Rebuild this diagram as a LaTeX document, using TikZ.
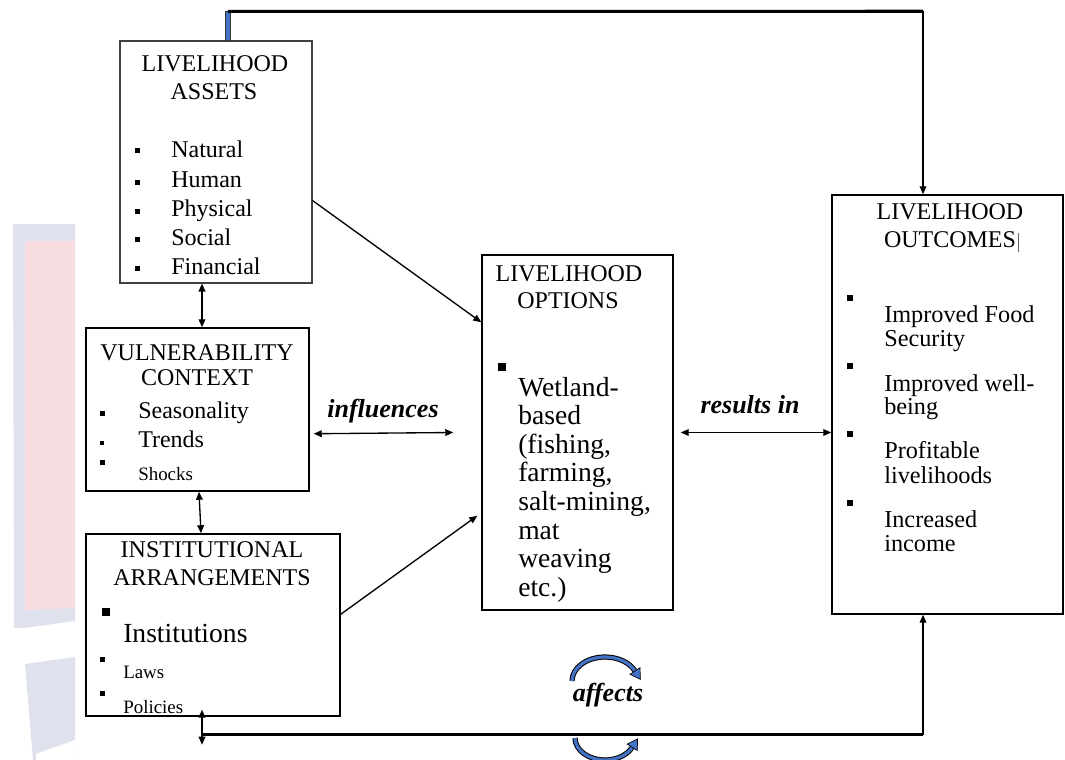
\documentclass[tikz,border=0pt]{standalone}
\usepackage{fontspec}
\setmainfont{Liberation Serif}
\usetikzlibrary{arrows.meta,calc,fit}
\definecolor{wordblue}{RGB}{68,114,196}
\definecolor{wmblue}{RGB}{223,226,237}
\definecolor{wmpink}{RGB}{249,222,225}
\tikzset{
  box/.style={draw=black, line width=1.1pt, inner sep=0pt},
  hd/.style={anchor=base, inner sep=0pt, font=\fontsize{18}{18}\selectfont},
  itm/.style={anchor=base west, inner sep=0pt, font=\fontsize{18}{18}\selectfont},
  itmsmall/.style={anchor=base west, inner sep=0pt, font=\fontsize{14.2}{14}\selectfont},
  itmbig/.style={anchor=base west, inner sep=0pt, font=\fontsize{20.7}{20}\selectfont},
  itmout/.style={anchor=base west, inner sep=0pt, font=\fontsize{18.2}{18}\selectfont},
  lab/.style={anchor=base, inner sep=0pt, font=\fontsize{19.5}{20}\selectfont\bfseries\itshape},
  bul/.style={fill=black, inner sep=0pt, minimum size=#1, rectangle},
  conn/.style={line width=1pt, {Triangle[length=6pt,width=5pt]}-{Triangle[length=6pt,width=5pt]}},
  conn1/.style={line width=1pt, -{Triangle[length=6pt,width=5pt]}},
  thickln/.style={line width=2.3pt, black},
}
\begin{document}
\begin{tikzpicture}[x=0.75pt,y=-0.75pt]
\useasboundingbox (0,0) rectangle (1065,760);
\fill[white] (0,0) rectangle (1065,760);
% faint watermark
\fill[wmblue] (13,224) -- (75,224) -- (75,621) -- (24,628) -- (14,628) -- cycle;
\fill[wmpink] (25,241) -- (75,241) -- (75,608) -- (25,610) -- cycle;
\fill[wmblue] (25,664) -- (75,657) -- (75,760) -- (33,760) -- cycle;
\fill[white] (36,754) -- (75,740) -- (75,760) -- (36,760) -- cycle;

% boxes
\node[box, draw=black!75, line width=0.8pt, fit={(120,41) (312,283)}] (assets) {};
\node[box, fit={(86,328) (309,491)}] (vc) {};
\node[box, fit={(86,534) (340,716)}] (ia) {};
\node[box, fit={(482,255) (673,610)}] (opt) {};
\node[box, fit={(832,195) (1063,614)}] (out) {};

% assets text
\node[hd] (a-h1) at (215,71) {LIVELIHOOD};
\node[hd] (a-h2) at (214,99) {ASSETS};
\node[bul=3.75pt] (a-b1) at (137,150) {};
\node[bul=3.75pt] (a-b2) at (137,182) {};
\node[bul=3.75pt] (a-b3) at (137,211) {};
\node[bul=3.75pt] (a-b4) at (137,239) {};
\node[bul=3.75pt] (a-b5) at (137,268) {};
\node[itm] (a-t1) at (171,157) {Natural};
\node[itm] (a-t2) at (171,187) {Human};
\node[itm] (a-t3) at (171,216) {Physical};
\node[itm] (a-t4) at (171,245) {Social};
\node[itm] (a-t5) at (171,274) {Financial};

% vulnerability text
\node[hd] (v-h1) at (197,360) {VULNERABILITY};
\node[hd] (v-h2) at (197,385) {CONTEXT};
\node[bul=3.75pt] (v-b1) at (102,413) {};
\node[bul=3pt] (v-b2) at (102,443) {};
\node[bul=3.75pt] (v-b3) at (102,462) {};
\node[itm] (v-t1) at (138,418) {Seasonality};
\node[itm] (v-t2) at (138,447) {Trends};
\node[itmsmall] (v-t3) at (138,480) {Shocks};

% institutional text
\node[hd] (i-h1) at (212,557) {INSTITUTIONAL};
\node[hd] (i-h2) at (212,585) {ARRANGEMENTS};
\node[bul=6pt] (i-b1) at (105.5,611.5) {};
\node[itmbig] (i-t1) at (123,642) {Institutions};
\node[bul=3.75pt] (i-b2) at (102.5,659) {};
\node[itmsmall] (i-t2) at (123,678) {Laws};
\node[bul=3.75pt] (i-b3) at (102.5,693) {};
\node[itmsmall] (i-t3) at (123,713) {Policies};

% options text
\node[hd] (o-h1) at (569,281) {LIVELIHOOD};
\node[hd] (o-h2) at (568,308) {OPTIONS};
\node[bul=6pt] (o-b1) at (502,367) {};
\node[itmbig] (o-t1) at (518,396) {Wetland-};
\node[itmbig] (o-t2) at (518,424.6) {based};
\node[itmbig] (o-t3) at (518,453.2) {(fishing,};
\node[itmbig] (o-t4) at (518,481.8) {farming,};
\node[itmbig] (o-t5) at (518,510.4) {salt-mining,};
\node[itmbig] (o-t6) at (518,539) {mat};
\node[itmbig] (o-t7) at (518,567.6) {weaving};
\node[itmbig] (o-t8) at (518,596.2) {etc.)};

% outcomes text
\node[hd] (u-h1) at (950,219) {LIVELIHOOD};
\node[hd] (u-h2) at (950,247) {OUTCOMES};
\draw[black!60, line width=0.5pt] ($(u-h2.base east)+(2,-14)$) -- ($(u-h2.base east)+(2,5)$);
\node[bul=4.9pt] (u-b1) at (850,298) {};
\node[bul=4.9pt] (u-b2) at (850,366) {};
\node[bul=4.9pt] (u-b3) at (850,434) {};
\node[bul=4.9pt] (u-b4) at (850,503) {};
\node[itmout] (u-t1) at (884,322) {Improved Food};
\node[itmout] (u-t2) at (884,346) {Security};
\node[itmout] (u-t3) at (884,391) {Improved well-};
\node[itmout] (u-t4) at (884,414) {being};
\node[itmout] (u-t5) at (884,458) {Profitable};
\node[itmout] (u-t6) at (884,483) {livelihoods};
\node[itmout] (u-t7) at (884,527) {Increased};
\node[itmout] (u-t8) at (884,551) {income};

% labels
\node[lab] (l-inf) at (383,417) {influences};
\node[lab] (l-res) at (750,413) {results in};
\node[lab] (l-aff) at (608,701) {affects};

% connectors
\draw[conn] ($(assets.south)+(-14,0)$) -- ($(vc.north)+(4.5,0)$);
\draw[conn] ($(vc.south)+(1.5,0)$) -- ($(ia.north)+(-12,0)$);
\draw[conn] ($(vc.south east)+(4,-58)$) -- ($(opt.west)+(-28,0)$);
\draw[conn] ($(opt.east)+(7,0)$) -- (out.west |- opt.east);
\draw[conn1] ($(assets.south east)+(0,-83)$) -- ($(opt.north west)+(0,68)$);
\draw[conn1] ($(ia.north east)+(0,81)$) -- ($(opt.south west)+(-4,-95)$);

% top feedback line
\coordinate (tl) at ($(assets.north)+(12,-29)$);
\coordinate (tr) at ($(out.north)+(-24.5,-183)$);
\filldraw[fill=wordblue, draw=black!80, line width=0.4pt] ($(tl)+(-2.5,0)$) rectangle ($(assets.north)+(14.5,0)$);
\draw[thickln] (tl) -- (tr);
\draw[conn1] (tr) -- (out.north -| tr);

% curved arrows near "affects"
\draw[line width=3.9pt, black] (572,681) arc[start angle=180, end angle=335, x radius=33, y radius=24];
\draw[line width=2.4pt, wordblue] (572,681) arc[start angle=180, end angle=335, x radius=33, y radius=24];
\filldraw[fill=wordblue, draw=black, line width=0.5pt] (640.4,679.4) -- (640,667.7) -- (630,674.3) -- cycle;
\begin{scope}
\clip (0,0) rectangle (1065,760);
\draw[line width=3.9pt, black] (575,738) arc[start angle=180, end angle=25, x radius=30, y radius=22];
\draw[line width=2.4pt, wordblue] (575,738) arc[start angle=180, end angle=25, x radius=30, y radius=22];
\filldraw[fill=wordblue, draw=black, line width=0.5pt] (637.6,738.9) -- (637.3,750.5) -- (627.1,744.1) -- cycle;
\end{scope}

% bottom feedback line
\coordinate (bl) at ($(ia.south)+(-11,18)$);
\coordinate (br) at ($(out.south)+(-24.5,120)$);
\draw[thickln] (bl) -- (br);
\draw[conn1] (br) -- (out.south -| br);
\draw[conn] ($(bl)+(0,-25)$) -- ($(bl)+(0,10)$);
\end{tikzpicture}
\end{document}
